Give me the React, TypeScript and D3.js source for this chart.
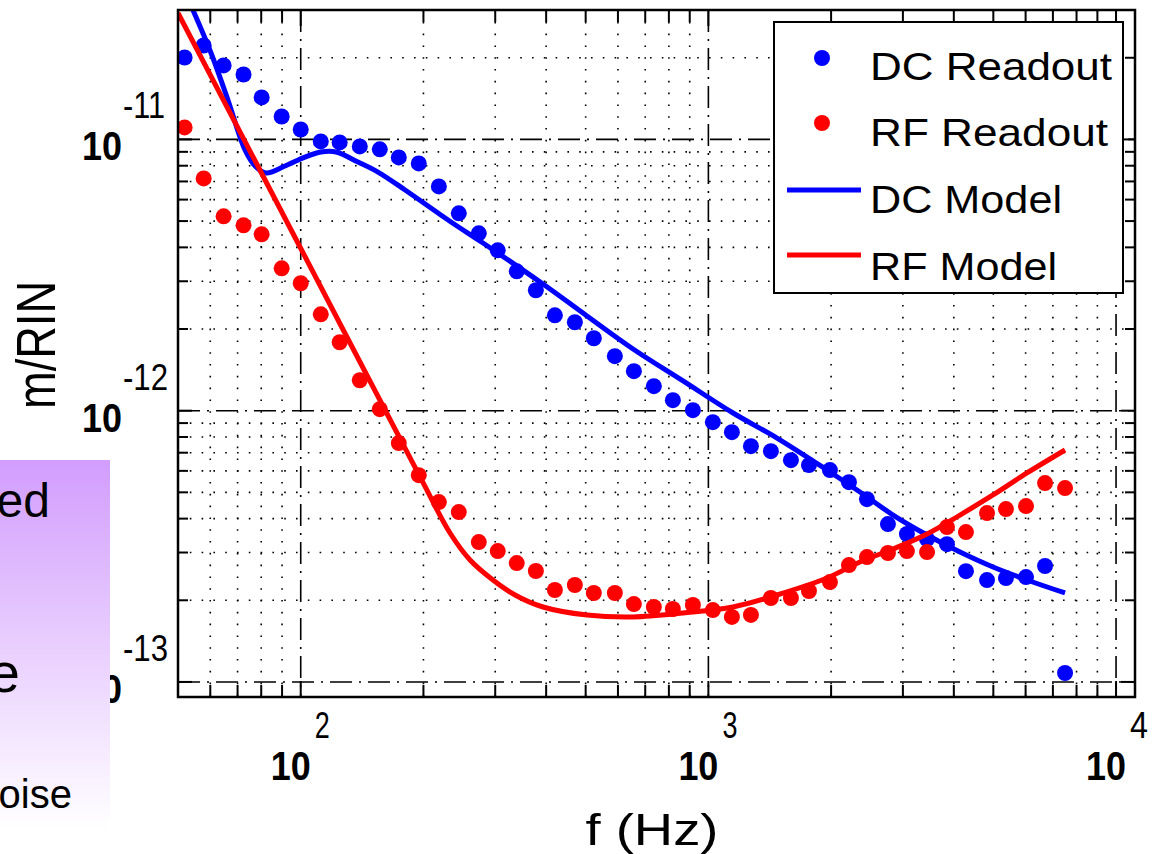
import React from 'react';
import * as d3 from 'd3';

// ---------- data (values in units of 1e-12 m/RIN) ----------
const UNIT = 1e-12;
const freqHz = [51.9, 57.8, 64.7, 72.4, 80.2, 89.8, 100, 112, 124.6, 139.6, 156.3, 174, 194.8, 218.2, 244.2, 273.4, 304.3, 338.8, 377.4, 420.2, 470.4, 523.6, 589.6, 656.5, 734.9, 818.3, 916.2, 1025.6, 1142, 1271.6, 1423.5, 1594, 1764.8, 1987, 2212, 2449, 2757, 3069, 3438, 3848, 4284, 4825, 5370, 6014, 6696, 7497];
const dcReadout = [20.05, 22.2, 18.74, 17.35, 14.28, 12.15, 10.88, 9.83, 9.75, 9.42, 9.19, 8.58, 8.16, 6.71, 5.34, 4.505, 3.9, 3.265, 2.779, 2.247, 2.118, 1.849, 1.588, 1.398, 1.231, 1.093, 1.004, 0.907, 0.833, 0.74, 0.709, 0.657, 0.63, 0.604, 0.545, 0.472, 0.382, 0.351, 0.336, 0.322, 0.256, 0.2375, 0.2415, 0.2436, 0.2675, 0.1079];
const rfReadout = [11.07, 7.184, 5.205, 4.823, 4.468, 3.348, 2.949, 2.266, 1.788, 1.295, 1.0127, 0.7593, 0.5786, 0.4603, 0.4228, 0.3278, 0.3038, 0.2743, 0.2564, 0.2182, 0.2277, 0.2127, 0.2127, 0.1937, 0.1889, 0.1857, 0.1921, 0.1841, 0.1736, 0.1766, 0.2039, 0.2039, 0.2164, 0.2335, 0.2697, 0.2887, 0.2987, 0.3038, 0.3012, 0.3724, 0.3569, 0.4194, 0.4337, 0.4449, 0.5408, 0.5183];
const dcModelFreq = [54.4, 60.25, 66.3, 73.0, 77.3, 82.2, 91.5, 102.4, 112.1, 122.1, 138.2, 154.7, 180.3, 233.7, 280.0, 392.9, 503.7, 653.4, 866.6, 1149.5, 1473.5, 1954, 2354, 2838, 3439, 4142, 4991, 6047, 7497];
const dcModelVal = [30.0, 20.83, 13.97, 9.14, 7.98, 7.52, 7.98, 8.61, 8.99, 8.99, 8.25, 7.58, 6.51, 4.96, 4.15, 2.93, 2.234, 1.688, 1.287, 0.9806, 0.7927, 0.6045, 0.5015, 0.4124, 0.3481, 0.3013, 0.2653, 0.2376, 0.2128];
const rfModelFreq = [50, 99.6, 196.2, 232.4, 260.2, 296.2, 335.5, 392.9, 503.7, 653.4, 866.6, 1149.5, 1473.5, 1954, 2354, 2838, 3439, 4142, 4991, 6047, 7497];
const rfModelVal = [29.24, 4.013, 0.5697, 0.354, 0.2816, 0.2376, 0.2092, 0.1889, 0.1765, 0.1736, 0.1795, 0.1889, 0.2092, 0.2416, 0.2769, 0.3091, 0.3511, 0.4123, 0.4889, 0.5893, 0.7162];

const xDomain = [50, 11130];
const yDomain = [8.8e-14, 3e-11];
const xMajorTicks = [100, 1000, 10000];
const xMajorExp = ['2', '3', '4'];
const yMajorTicks = [1e-13, 1e-12, 1e-11];
const yMajorExp = ['-13', '-12', '-11'];
const legendLabels = ['DC Readout', 'RF Readout', 'DC Model', 'RF Model'];
const xLabel = 'f (Hz)';
const yLabel = 'm/RIN';
const slideFragments = ['ed', 'e', 'oise'];

// ---------- layout ----------
const W = 1153, H = 854;
const L = 178, R = 1135, T = 10, B = 697;
const BLUE = '#0000ff', RED = '#ff0000';
const FONT = "'Liberation Sans', Arial, Helvetica, sans-serif";

export default function App() {
  const x = d3.scaleLog().domain(xDomain).range([L, R]);
  const y = d3.scaleLog().domain(yDomain).range([B, T]);

  const minorX: number[] = [];
  [10, 100, 1000].forEach((d) => {
    for (let k = 2; k <= 9; k++) {
      const v = k * d;
      if (v > xDomain[0] && v < xDomain[1]) minorX.push(v);
    }
  });
  const minorY: number[] = [];
  [1e-13, 1e-12, 1e-11].forEach((d) => {
    for (let k = 2; k <= 9; k++) {
      const v = k * d;
      if (v > yDomain[0] && v < yDomain[1] * 0.99) minorY.push(v);
    }
  });

  const line = d3
    .line<[number, number]>()
    .x((d) => x(d[0]))
    .y((d) => y(d[1] * UNIT))
    .curve(d3.curveCatmullRom.alpha(0.5));

  const dcModelPts = dcModelFreq.map((f, i) => [f, dcModelVal[i]] as [number, number]);
  const rfModelPts = rfModelFreq.map((f, i) => [f, rfModelVal[i]] as [number, number]);

  const dotted = { stroke: '#000', strokeWidth: 1.6, strokeDasharray: '1.6,10.2' };
  const dashDot = { stroke: '#000', strokeWidth: 1.6, strokeDasharray: '22,7,2,7' };

  return (
    <svg
      width={W}
      height={H}
      style={{ position: 'absolute', left: 0, top: 0, background: '#fff' }}
      fontFamily={FONT}
    >
      <defs>
        <clipPath id="plotClip">
          <rect x={L} y={T} width={R - L} height={B - T} />
        </clipPath>
        <linearGradient id="slideGrad" x1="0" y1="0" x2="0" y2="1">
          <stop offset="0" stopColor="#d29dfd" />
          <stop offset="1" stopColor="#ffffff" />
        </linearGradient>
      </defs>
      <rect x={0} y={0} width={W} height={H} fill="#fff" />

      {/* minor grid */}
      {minorX.map((v) => (
        <line key={'gx' + v} x1={x(v)} x2={x(v)} y1={T} y2={B} {...dotted} />
      ))}
      {minorY.map((v) => (
        <line key={'gy' + v} x1={L} x2={R} y1={y(v)} y2={y(v)} {...dotted} />
      ))}
      {/* major grid */}
      {xMajorTicks.map((v) => (
        <line key={'Gx' + v} x1={x(v)} x2={x(v)} y1={T} y2={B} {...dashDot} />
      ))}
      {yMajorTicks.map((v) => (
        <line key={'Gy' + v} x1={L} x2={R} y1={y(v)} y2={y(v)} {...dashDot} />
      ))}

      {/* ticks */}
      {minorX.concat(xMajorTicks).map((v) => {
        const len = xMajorTicks.includes(v) ? 16 : 12;
        return (
          <g key={'tx' + v} stroke="#000" strokeWidth={2}>
            <line x1={x(v)} x2={x(v)} y1={B} y2={B - len} />
            <line x1={x(v)} x2={x(v)} y1={T} y2={T + len} />
          </g>
        );
      })}
      {minorY.concat(yMajorTicks).map((v) => {
        const len = yMajorTicks.includes(v) ? 14 : 10;
        return (
          <g key={'ty' + v} stroke="#000" strokeWidth={2}>
            <line x1={L} x2={L + len} y1={y(v)} y2={y(v)} />
            <line x1={R} x2={R - len} y1={y(v)} y2={y(v)} />
          </g>
        );
      })}

      {/* data */}
      <g clipPath="url(#plotClip)">
        {freqHz.map((f, i) => (
          <circle key={'dc' + i} cx={x(f)} cy={y(dcReadout[i] * UNIT)} r={8} fill={BLUE} />
        ))}
        {freqHz.map((f, i) => (
          <circle key={'rf' + i} cx={x(f)} cy={y(rfReadout[i] * UNIT)} r={8} fill={RED} />
        ))}
        <path d={line(dcModelPts) || ''} fill="none" stroke={BLUE} strokeWidth={5} strokeLinejoin="round" />
        <path d={line(rfModelPts) || ''} fill="none" stroke={RED} strokeWidth={5} strokeLinejoin="round" />
      </g>

      {/* axes box */}
      <rect x={L} y={T} width={R - L} height={B - T} fill="none" stroke="#000" strokeWidth={2.5} />

      {/* x tick labels */}
      {xMajorTicks.map((v, i) => (
        <g key={'xl' + v}>
          <text x={x(v) + 10} y={780} fontSize={40} fontWeight="bold" textAnchor="end" textLength={40} lengthAdjust="spacingAndGlyphs">
            10
          </text>
          <text x={x(v) + 14} y={738} fontSize={36} textLength={i === 2 ? 18 : 15} lengthAdjust="spacingAndGlyphs">
            {xMajorExp[i]}
          </text>
        </g>
      ))}
      {/* y tick labels */}
      {yMajorTicks.map((v, i) => (
        <g key={'yl' + v}>
          <text x={122} y={y(v) + 21} fontSize={40} fontWeight="bold" textAnchor="end" textLength={40} lengthAdjust="spacingAndGlyphs">
            10
          </text>
          <text x={123} y={y(v) - 21} fontSize={36} textLength={i === 2 ? 42 : 45} lengthAdjust="spacingAndGlyphs">
            {yMajorExp[i]}
          </text>
        </g>
      ))}

      {/* axis labels */}
      <text x={652} y={845} fontSize={44} textAnchor="middle" textLength={133} lengthAdjust="spacingAndGlyphs">
        {xLabel}
      </text>
      <text
        transform="translate(55,345) rotate(-90)"
        fontSize={56}
        textAnchor="middle"
        textLength={128}
        lengthAdjust="spacingAndGlyphs"
      >
        {yLabel}
      </text>

      {/* legend */}
      <rect x={774} y={22} width={349} height={271} fill="#fff" stroke="#000" strokeWidth={2} />
      <circle cx={822} cy={58} r={8} fill={BLUE} />
      <circle cx={822} cy={123} r={8} fill={RED} />
      <line x1={787} x2={861} y1={190} y2={190} stroke={BLUE} strokeWidth={5} />
      <line x1={787} x2={861} y1={255} y2={255} stroke={RED} strokeWidth={5} />
      {legendLabels.map((lab, i) => (
        <text
          key={lab}
          x={870}
          y={[80, 146, 213, 280][i]}
          fontSize={39}
          textLength={[242, 238, 192, 187][i]}
          lengthAdjust="spacingAndGlyphs"
        >
          {lab}
        </text>
      ))}

      {/* slide overlay panel */}
      <rect x={0} y={460} width={110} height={370} fill="url(#slideGrad)" />
      <text x={50} y={517} fontSize={48} textAnchor="end">
        {slideFragments[0]}
      </text>
      <text x={20} y={692} fontSize={56} textAnchor="end">
        {slideFragments[1]}
      </text>
      <text x={72} y={808} fontSize={40} textAnchor="end">
        {slideFragments[2]}
      </text>
    </svg>
  );
}
